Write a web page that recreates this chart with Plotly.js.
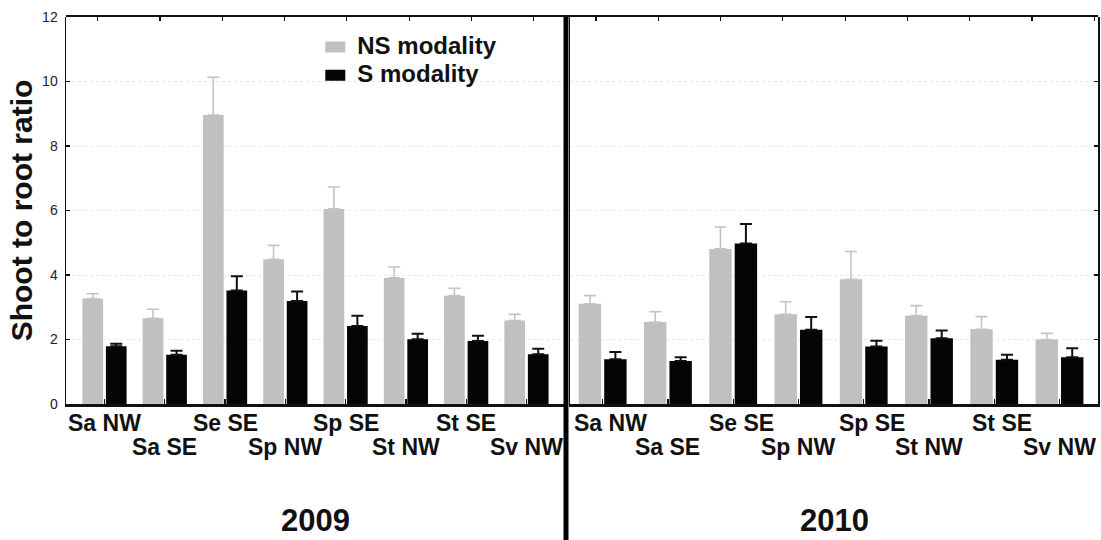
<!DOCTYPE html>
<html>
<head>
<meta charset="utf-8">
<script src="https://cdn.plot.ly/plotly-3.0.1.min.js"></script>
<style>
html,body{margin:0;padding:0;background:#fff;}
#chart{width:1101px;height:540px;}
</style>
</head>
<body>
<div id="chart"></div>
<script>
// ---- data ----
var categories = ["Sa NW", "Sa SE", "Se SE", "Sp NW", "Sp SE", "St NW", "St SE", "Sv NW"];
var years = ["2009", "2010"];
var seriesNames = ["NS modality", "S modality"];

var ns2009 = [3.27, 2.66, 8.96, 4.49, 6.05, 3.91, 3.36, 2.59];
var ns2009Err = [0.15, 0.28, 1.17, 0.43, 0.68, 0.34, 0.23, 0.19];
var s2009 = [1.79, 1.53, 3.52, 3.19, 2.42, 2.01, 1.95, 1.54];
var s2009Err = [0.08, 0.12, 0.44, 0.30, 0.32, 0.17, 0.17, 0.17];

var ns2010 = [3.11, 2.54, 4.81, 2.78, 3.87, 2.74, 2.32, 2.00];
var ns2010Err = [0.25, 0.32, 0.68, 0.39, 0.86, 0.31, 0.39, 0.19];
var s2010 = [1.39, 1.33, 4.98, 2.30, 1.78, 2.04, 1.37, 1.45];
var s2010Err = [0.22, 0.12, 0.60, 0.40, 0.18, 0.24, 0.16, 0.28];

var yTickVals = [0, 2, 4, 6, 8, 10, 12];
var yTickText = ["0", "2", "4", "6", "8", "10", "12"];
var yTitle = "Shoot to root ratio";

// ---- styles ----
var FONT = "Liberation Sans, Arial, Helvetica, sans-serif";
var GRAY = "#c0c0c0";
var BLACK = "#050505";

function barTrace(name, y, err, color, errColor, errThick, xa, ya, showLegend, legendId) {
  return {
    type: "bar", name: name, x: categories, y: y,
    xaxis: xa, yaxis: ya, showlegend: showLegend, legend: legendId,
    marker: {color: color, line: {width: 0}},
    error_y: {type: "data", symmetric: false, array: err, color: errColor, thickness: errThick, width: 6}
  };
}

var data = [
  barTrace(seriesNames[0], ns2009, ns2009Err, GRAY, "#c4c4c4", 1.6, "x", "y", true, "legend"),
  barTrace(seriesNames[1], s2009, s2009Err, BLACK, "#111", 2, "x", "y", true, "legend2"),
  barTrace(seriesNames[0], ns2010, ns2010Err, GRAY, "#c4c4c4", 1.6, "x2", "y2", false, "legend"),
  barTrace(seriesNames[1], s2010, s2010Err, BLACK, "#111", 2, "x2", "y2", false, "legend2"),
  {type: "scatter", x: [], y: [], xaxis: "x3", yaxis: "y3", showlegend: false, hoverinfo: "skip"}
];

var annotations = [];
[["x", 0], ["x2", 1]].forEach(function (p) {
  categories.forEach(function (c, j) {
    annotations.push({
      xref: p[0], x: c, yref: "paper", y: 0, yanchor: "top", xanchor: "center",
      yshift: (j % 2 === 0) ? -4 : -28,
      xshift: (p[1] === 1 && j % 2 === 0) ? 8 : 0,
      text: c, showarrow: false,
      font: {family: FONT, size: 23, color: "#111", weight: "bold"}
    });
  });
  annotations.push({
    xref: p[0] + " domain", x: 0.5, yref: "paper", y: 0, yanchor: "bottom", xanchor: "center",
    yshift: -135, borderpad: 0, text: years[p[1]], showarrow: false,
    font: {family: FONT, size: 31, color: "#111", weight: "bold"}
  });
});

var yCommon = {
  range: [0, 12], tickvals: yTickVals, ticktext: yTickText, ticks: "inside", ticklen: 4,
  tickwidth: 1.2, tickcolor: "#111", showline: true, linecolor: "#111", linewidth: 1.5,
  showgrid: true, gridcolor: "#e8e8e8", griddash: "dot", gridwidth: 1, zeroline: false,
  fixedrange: true
};

var legendStyle = {
  xanchor: "left", yanchor: "top",
  bgcolor: "rgba(0,0,0,0)", borderwidth: 0, tracegroupgap: 0,
  font: {family: FONT, size: 24, color: "#111", weight: "bold"}
};

var layout = {
  width: 1101, height: 540,
  margin: {l: 66, r: 3, t: 17, b: 136, pad: 0},
  paper_bgcolor: "#fff", plot_bgcolor: "rgba(0,0,0,0)",
  font: {family: FONT, color: "#111"},
  barmode: "group", bargap: 0.22, bargroupgap: 0.12,
  showlegend: true,
  legend: Object.assign({x: 0.2435, y: 0.986}, legendStyle),
  legend2: Object.assign({x: 0.2435, y: 0.913}, legendStyle),
  xaxis: {
    domain: [0, 0.4835], anchor: "y", type: "category", categoryarray: categories,
    showline: true, linecolor: "#111", linewidth: 2.5, ticks: "inside", ticklen: 5,
    tickwidth: 1.2, tickcolor: "#111", showticklabels: false, showgrid: false, zeroline: false
  },
  xaxis2: {
    domain: [0.4884, 1], anchor: "y2", type: "category", categoryarray: categories,
    showline: true, linecolor: "#111", linewidth: 2.5, ticks: "inside", ticklen: 5,
    tickwidth: 1.2, tickcolor: "#111", showticklabels: false, showgrid: false, zeroline: false
  },
  xaxis3: {
    domain: [0, 1], anchor: "y3", side: "top", range: [-0.51, 16.06], tick0: 0, dtick: 1,
    showline: true, linecolor: "#111", linewidth: 2.5, ticks: "inside", ticklen: 4,
    tickwidth: 1.2, tickcolor: "#111", showticklabels: false, showgrid: false, zeroline: false
  },
  yaxis: Object.assign({}, yCommon, {
    anchor: "x", side: "left",
    tickfont: {family: FONT, size: 14, color: "#222"}, ticklabelstandoff: 4,
    title: {text: yTitle, standoff: 0, font: {family: FONT, size: 30, color: "#111", weight: "bold"}}
  }),
  yaxis2: Object.assign({}, yCommon, {
    anchor: "x2", side: "right", mirror: true, showticklabels: false
  }),
  yaxis3: {anchor: "x3", domain: [0, 1], range: [0, 12], visible: false, showgrid: false, zeroline: false},
  shapes: [{
    type: "line", xref: "paper", yref: "paper", x0: 0.4845, x1: 0.4845, y0: 1.0, y1: -0.36,
    line: {color: "#000", width: 5}
  }],
  annotations: annotations
};

Plotly.newPlot("chart", data, layout, {staticPlot: true, displayModeBar: false}).then(function (gd) {
  gd.querySelectorAll(".legendpoints path").forEach(function (p) {
    p.setAttribute("d", "M8,8H-12V-3H8Z");
  });
});
</script>
</body>
</html>
